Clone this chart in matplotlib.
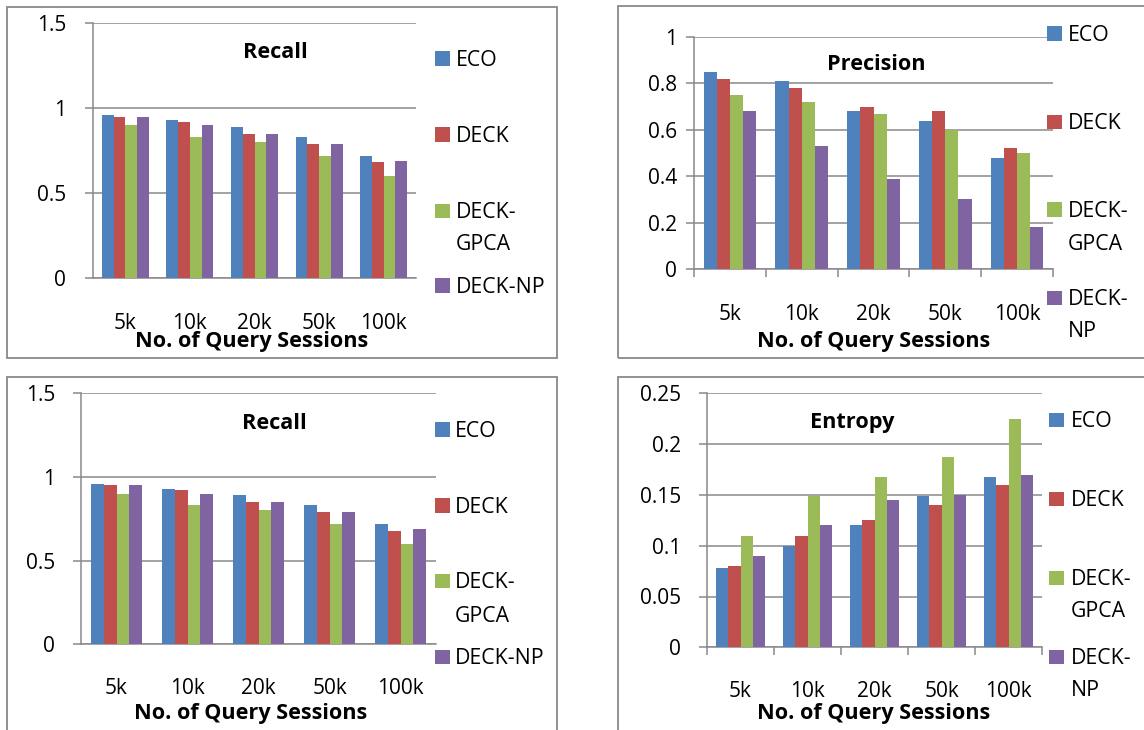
import matplotlib
matplotlib.use('Agg')
import matplotlib.pyplot as plt
from matplotlib.patches import Rectangle
from matplotlib.transforms import blended_transform_factory
import numpy as np

W, H = 1144, 730
plt.rcParams['font.family'] = ['Open Sans', 'DejaVu Sans']

categories = ['5k', '10k', '20k', '50k', '100k']
series = ['ECO', 'DECK', 'DECK-GPCA', 'DECK-NP']
colors = ['#4F81BD', '#C0504D', '#9BBB59', '#8064A2']

recall_eco = [0.96, 0.93, 0.89, 0.83, 0.72]
recall_deck = [0.95, 0.92, 0.85, 0.79, 0.68]
recall_gpca = [0.90, 0.83, 0.80, 0.72, 0.60]
recall_np = [0.95, 0.90, 0.85, 0.79, 0.69]

precision_eco = [0.85, 0.81, 0.68, 0.64, 0.48]
precision_deck = [0.82, 0.78, 0.70, 0.68, 0.52]
precision_gpca = [0.75, 0.72, 0.67, 0.60, 0.50]
precision_np = [0.68, 0.53, 0.39, 0.30, 0.18]

entropy_eco = [0.078, 0.10, 0.12, 0.149, 0.168]
entropy_deck = [0.08, 0.11, 0.125, 0.14, 0.16]
entropy_gpca = [0.11, 0.149, 0.168, 0.187, 0.225]
entropy_np = [0.09, 0.12, 0.145, 0.15, 0.17]

recall_ticks = [0, 0.5, 1, 1.5]
recall_ticklabels = ['0', '0.5', '1', '1.5']
precision_ticks = [0, 0.2, 0.4, 0.6, 0.8, 1.0]
precision_ticklabels = ['0', '0.2', '0.4', '0.6', '0.8', '1']
entropy_ticks = [0, 0.05, 0.1, 0.15, 0.2, 0.25]
entropy_ticklabels = ['0', '0.05', '0.1', '0.15', '0.2', '0.25']

xlabel_text = 'No. of Query Sessions'
GRAY = '#898989'

panels = [
    dict(title='Recall', data=[recall_eco, recall_deck, recall_gpca, recall_np],
         ticks=recall_ticks, ticklabels=recall_ticklabels,
         box=(7, 7, 557, 358), ax=(93, 416, 23, 278), ypad=13.7, xticks=False,
         xlab_base=329, title_pos=(275, 58.3), xlabel_pos=(252, 347),
         leg_x=(435, 456), leg=[(['ECO'], 66), (['DECK'], 141.7),
                                (['DECK-', 'GPCA'], 218.3, 250), (['DECK-NP'], 292.7)]),
    dict(title='Precision', data=[precision_eco, precision_deck, precision_gpca, precision_np],
         ticks=precision_ticks, ticklabels=precision_ticklabels,
         box=(618, 6, 1160, 358), ax=(694, 1053, 37, 269), ypad=6.5, xticks=True,
         xlab_base=320, title_pos=(876.5, 70), xlabel_pos=(873.5, 347),
         leg_x=(1047, 1068), leg=[(['ECO'], 40.7), (['DECK'], 129.3),
                                  (['DECK-', 'GPCA'], 216.7, 250), (['DECK-', 'NP'], 305, 336.7)]),
    dict(title='Recall', data=[recall_eco, recall_deck, recall_gpca, recall_np],
         ticks=recall_ticks, ticklabels=recall_ticklabels,
         box=(7, 377, 557, 745), ax=(81, 436, 393.3, 644.3), ypad=13, xticks=False,
         xlab_base=694, title_pos=(274.5, 429.3), xlabel_pos=(250.5, 718.5),
         leg_x=(435, 455), leg=[(['ECO'], 436.7), (['DECK'], 512.7),
                                (['DECK-', 'GPCA'], 588.3, 621.7), (['DECK-NP'], 664.3)]),
    dict(title='Entropy', data=[entropy_eco, entropy_deck, entropy_gpca, entropy_np],
         ticks=entropy_ticks, ticklabels=entropy_ticklabels,
         box=(618, 377, 1160, 745), ax=(707, 1042, 393.3, 647.3), ypad=13, xticks=True,
         xlab_base=697, title_pos=(852.5, 428.3), xlabel_pos=(874, 718.5),
         leg_x=(1049, 1071), leg=[(['ECO'], 427.3), (['DECK'], 506),
                                  (['DECK-', 'GPCA'], 585, 617.3), (['DECK-', 'NP'], 664, 695.7)]),
]

fig = plt.figure(figsize=(W / 100, H / 100), dpi=100)


def fx(x):
    return x / W


def fy(y):
    return 1 - y / H


TICK_FS = 15
LEG_FS = 15.3
BOLD_FS = 15.6
SQ = 14.5

x = np.arange(len(categories))
group = 0.73
bw = group / len(series)

for p in panels:
    bx0, by0, bx1, by1 = p['box']
    fig.add_artist(Rectangle((fx(bx0), fy(by1)), fx(bx1 - bx0), (by1 - by0) / H,
                             transform=fig.transFigure, fill=False,
                             edgecolor=GRAY, linewidth=1.3))
    l, r, t, b = p['ax']
    ax = fig.add_axes([fx(l), fy(b), fx(r - l), (b - t) / H])
    for j, vals in enumerate(p['data']):
        ax.bar(x + (j - 1.5) * bw, vals, width=bw, color=colors[j], zorder=3)
    ax.set_xlim(-0.5, len(categories) - 0.5)
    ax.set_ylim(p['ticks'][0], p['ticks'][-1])
    ax.set_yticks(p['ticks'])
    ax.set_yticklabels(p['ticklabels'], fontsize=TICK_FS)
    ax.yaxis.grid(True, color=GRAY, linewidth=1.1, zorder=0)
    ax.set_axisbelow(True)
    for s in ['top', 'right']:
        ax.spines[s].set_visible(False)
    for s in ['left', 'bottom']:
        ax.spines[s].set_color(GRAY)
        ax.spines[s].set_linewidth(1.1)
    ax.tick_params(axis='y', length=5.5, width=1.1, color=GRAY, pad=p['ypad'])
    if p['xticks']:
        ax.set_xticks(np.arange(len(categories) + 1) - 0.5)
        ax.set_xticklabels([])
        ax.tick_params(axis='x', length=5.8, width=1.1, color=GRAY)
    else:
        ax.set_xticks([])
    tr = blended_transform_factory(ax.transData, fig.transFigure)
    for i, c in enumerate(categories):
        ax.text(x[i], fy(p['xlab_base']), c, transform=tr, ha='center',
                va='baseline', fontsize=TICK_FS)
    fig.text(fx(p['title_pos'][0]), fy(p['title_pos'][1]), p['title'],
             ha='center', va='baseline', fontsize=BOLD_FS, fontweight='bold')
    fig.text(fx(p['xlabel_pos'][0]), fy(p['xlabel_pos'][1]), xlabel_text,
             ha='center', va='baseline', fontsize=BOLD_FS, fontweight='bold')
    sqx, tx = p['leg_x']
    for j, entry in enumerate(p['leg']):
        lines = entry[0]
        bases = entry[1:]
        base0 = bases[0]
        fig.add_artist(Rectangle((fx(sqx), fy(base0)), fx(SQ), SQ / H,
                                 transform=fig.transFigure, facecolor=colors[j],
                                 edgecolor='none'))
        for ln, bs in zip(lines, bases):
            fig.text(fx(tx), fy(bs), ln, ha='left', va='baseline', fontsize=LEG_FS)

fig.savefig('out.png', dpi=100)
